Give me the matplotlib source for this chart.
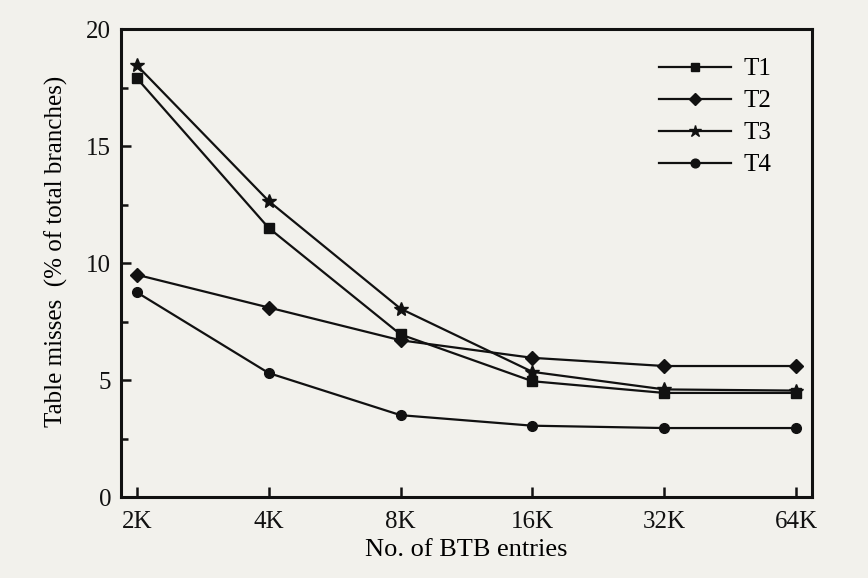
import matplotlib
matplotlib.use("Agg")
import matplotlib.pyplot as plt
from matplotlib.ticker import MultipleLocator

categories = ["2K", "4K", "8K", "16K", "32K", "64K"]
T1 = [17.9, 11.5, 6.95, 4.95, 4.45, 4.45]
T2 = [9.5, 8.1, 6.7, 5.95, 5.6, 5.6]
T3 = [18.45, 12.65, 8.05, 5.35, 4.6, 4.55]
T4 = [8.75, 5.3, 3.5, 3.05, 2.95, 2.95]
series = {"T1": (T1, "s", 7), "T2": (T2, "D", 7), "T3": (T3, "*", 10), "T4": (T4, "o", 7)}

plt.rcParams['font.family'] = ['Liberation Serif', 'DejaVu Serif']
bg = "#f2f1ec"
fig = plt.figure(figsize=(8.68, 5.78), dpi=100, facecolor=bg)
ax = fig.add_axes([0.1394, 0.140, 0.7961, 0.8098])
ax.set_facecolor(bg)

x = list(range(len(categories)))
for name, (vals, mk, ms) in series.items():
    ax.plot(x, vals, color="#111111", lw=1.6, marker=mk, markersize=ms, label=name)

ax.set_xlim(-0.12, 5.12)
ax.set_ylim(0, 20)
ax.set_xticks(x)
ax.set_xticklabels(categories)
ax.yaxis.set_major_locator(MultipleLocator(5))
ax.yaxis.set_minor_locator(MultipleLocator(2.5))
ax.tick_params(axis="both", which="both", direction="in", labelsize=18, width=1.8, colors="#111111")
ax.tick_params(axis="both", which="major", length=7)
ax.tick_params(axis="y", which="minor", length=5)
ax.tick_params(axis="x", pad=10)
ax.tick_params(axis="y", pad=7)
for s in ax.spines.values():
    s.set_linewidth(2.2)
    s.set_color("#111111")

ax.set_xlabel("No. of BTB entries", fontsize=19, labelpad=4)
ax.set_ylabel("Table misses  (% of total branches)", fontsize=18)
ax.yaxis.set_label_coords(-0.077, 0.526)

leg = ax.legend(loc="upper left", bbox_to_anchor=(0.761, 0.965), frameon=False, fontsize=18,
                handlelength=2.85, labelspacing=0.38, handletextpad=0.5, borderpad=0,
                markerscale=0.9)

fig.savefig("out.png", dpi=100, facecolor=bg)
